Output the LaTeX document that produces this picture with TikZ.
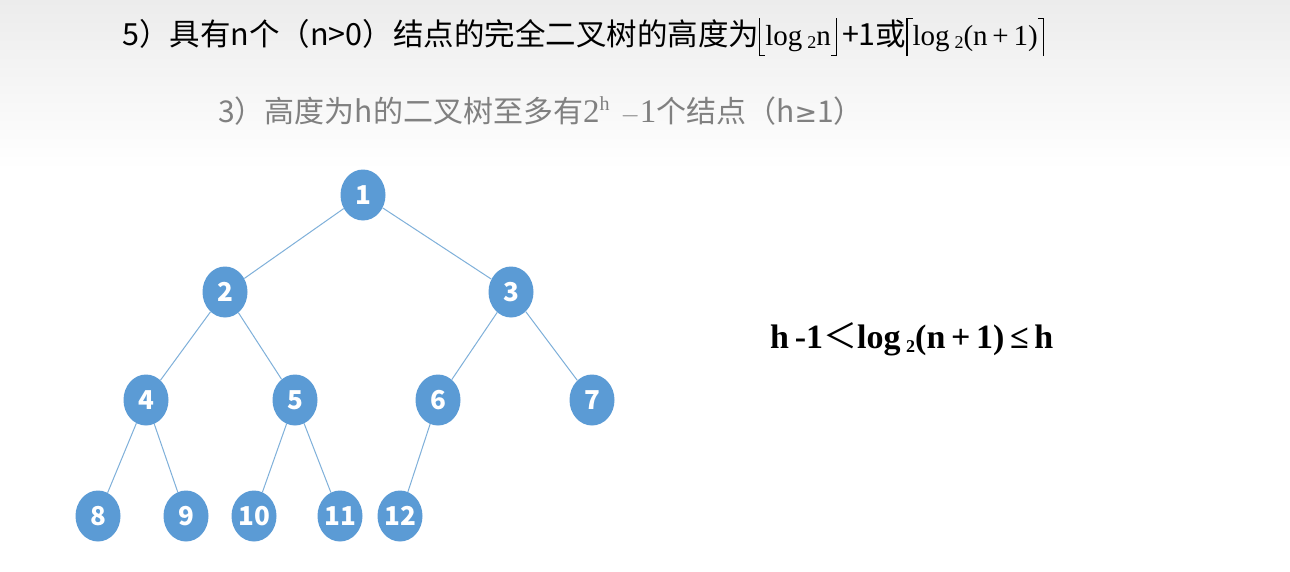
\documentclass[tikz,border=0pt]{standalone}
\usepackage{fontspec}
\setmainfont{Liberation Serif}
\newfontfamily\cjk{Noto Sans CJK SC}
\newfontfamily\tms{Liberation Serif}
\newfontfamily\dvs{DejaVu Sans}
\usetikzlibrary{shapes.geometric}
\definecolor{nodeblue}{RGB}{91,155,213}
\definecolor{edgeblue}{RGB}{127,176,218}
\definecolor{bgtop}{RGB}{236,236,236}
\definecolor{graytxt}{RGB}{128,128,128}
\tikzset{
  tnode/.style={ellipse, fill=nodeblue, minimum width=45pt, minimum height=51pt, inner sep=0pt,
    text=white, font=\cjk\fontsize{26}{26}\selectfont\bfseries},
  tedge/.style={draw=edgeblue, line width=1pt},
}
\newcommand{\sbt}[1]{\raisebox{-0.3ex}{\fontsize{18}{18}\selectfont #1}}
\newcommand{\lflr}{\rule[-11pt]{1.2pt}{38pt}\rule[-11pt]{5pt}{1.2pt}}
\newcommand{\rflr}{\rule[-11pt]{5pt}{1.2pt}\rule[-11pt]{1.2pt}{38pt}}
\newcommand{\lcil}{\rule[-11pt]{1.2pt}{38pt}\rule[25.8pt]{5pt}{1.2pt}}
\newcommand{\rcil}{\rule[25.8pt]{5pt}{1.2pt}\rule[-11pt]{1.2pt}{38pt}}
\begin{document}
\begin{tikzpicture}[x=1pt,y=-1pt]
\useasboundingbox (0,0) rectangle (1290,571);
\shade[top color=bgtop, bottom color=white] (0,0) rectangle (1290,170);
\fill[white] (0,170) rectangle (1290,571);
% top line
\node[anchor=base west, inner sep=0pt] (t1) at (122,45)
 {\cjk\fontsize{30.5}{30.5}\selectfont 5）具有n个（n>0）结点的完全二叉树的高度为{\tms\fontsize{29}{29}\selectfont\lflr log\,\sbt{2}n\rflr}\,+1或{\tms\fontsize{29}{29}\selectfont\lcil log\,\sbt{2}(n\,+\,1)\rcil}};
% second line
\node[anchor=base west, inner sep=0pt, text=graytxt] (t2) at (218,122)
 {\cjk\fontsize{30}{30}\selectfont 3）高度为h的二叉树至多有{\tms\fontsize{33}{33}\selectfont 2\raisebox{12pt}{\fontsize{20}{20}\selectfont h}\,\,$-$1}个结点（h{\dvs\fontsize{27}{27}\selectfont ≥}1）};
% formula
\node[anchor=base west, inner sep=0pt] (f) at (770,348)
 {\tms\bfseries\fontsize{34}{34}\selectfont h\,-1{\cjk\mdseries＜}log\,\sbt{2}(n\,+\,1)\,≤\,h};
% tree
\node[tnode] (n1) at (363,195) {1};
\node[tnode] (n2) at (225,292) {2};
\node[tnode] (n3) at (511,292) {3};
\node[tnode] (n4) at (146,400) {4};
\node[tnode] (n5) at (295,400) {5};
\node[tnode] (n6) at (438,400) {6};
\node[tnode] (n7) at (592,400) {7};
\node[tnode] (n8) at (98,516) {8};
\node[tnode] (n9) at (186,516) {9};
\node[tnode] (n10) at (254,516) {10};
\node[tnode] (n11) at (340,516) {11};
\node[tnode] (n12) at (400,516) {12};
\draw[tedge] (n1) -- (n2);
\draw[tedge] (n1) -- (n3);
\draw[tedge] (n2) -- (n4);
\draw[tedge] (n2) -- (n5);
\draw[tedge] (n3) -- (n6);
\draw[tedge] (n3) -- (n7);
\draw[tedge] (n4) -- (n8);
\draw[tedge] (n4) -- (n9);
\draw[tedge] (n5) -- (n10);
\draw[tedge] (n5) -- (n11);
\draw[tedge] (n6) -- (n12);
\end{tikzpicture}
\end{document}
